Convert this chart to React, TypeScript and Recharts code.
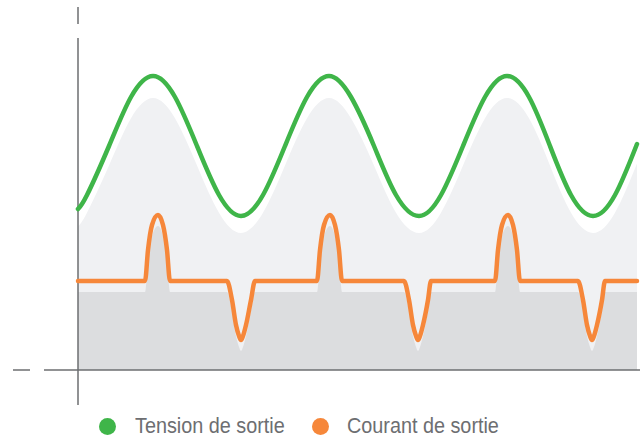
import React from 'react';
import { ComposedChart, Line, Area, XAxis, YAxis, ReferenceLine, Legend } from 'recharts';

// time (px from the vertical axis) and level (px above the horizontal axis)
const tensionT = [0, 9, 31, 53, 75, 97, 119, 141, 163, 185, 207, 229, 251, 273, 296, 318, 341, 363, 385, 407, 429, 451, 472, 493, 515, 537, 559];
const tensionV = [161, 175, 224, 273, 294, 273, 224, 175, 154, 175, 224, 273, 294, 273, 224, 175, 154, 175, 224, 273, 294, 273, 224, 175, 154, 175, 226];

const courantT = [
  0,
  67, 70, 74, 80, 85, 89, 92,
  149, 154, 158, 161, 163, 165, 168, 173, 177,
  239, 242, 246, 252, 257, 261, 264,
  326, 331, 335, 338, 340, 342, 345, 350, 353,
  417, 420, 424, 430, 435, 439, 442,
  500, 505, 509, 512, 514, 516, 519, 524, 527,
  559,
];
const courantI = [
  89,
  89, 120, 145, 155, 145, 120, 89,
  89, 70, 45, 34, 30, 34, 45, 70, 89,
  89, 120, 145, 155, 145, 120, 89,
  89, 70, 45, 34, 30, 34, 45, 70, 89,
  89, 120, 145, 155, 145, 120, 89,
  89, 70, 45, 34, 30, 34, 45, 70, 89,
  89,
];

const seriesNames = ['Tension de sortie', 'Courant de sortie'];

const tensionData = tensionT.map((t, i) => ({ t, v: tensionV[i] }));
const courantData = courantT.map((t, i) => ({ t, i: courantI[i] }));

const GREEN = '#3fb549';
const ORANGE = '#f6873a';
const AXIS = '#6d6e71';

// legend item slots: circle left edge, text left edge
const legendSlots = [
  { dot: 99, text: 135 },
  { dot: 312, text: 347 },
];

const renderLegend = (props: any) => {
  const items = (props.payload || [])
    .filter((e: any) => seriesNames.includes(e.value))
    .sort((a: any, b: any) => seriesNames.indexOf(a.value) - seriesNames.indexOf(b.value));
  return (
    <div style={{ position: 'relative', width: 640, height: 33 }}>
      {items.map((entry: any, idx: number) => (
        <React.Fragment key={entry.value}>
          <svg width={17} height={17} style={{ position: 'absolute', left: legendSlots[idx].dot, top: 8 }}>
            <circle cx={8.5} cy={8.5} r={8.5} fill={entry.color} />
          </svg>
          <span
            style={{
              position: 'absolute',
              left: legendSlots[idx].text,
              top: 3,
              whiteSpace: 'nowrap',
              color: AXIS,
              fontSize: 22,
              lineHeight: '25px',
              fontFamily: '"Liberation Sans", Arial, sans-serif',
              transform: 'scaleX(0.9)',
              transformOrigin: 'left center',
            }}
          >
            {entry.value}
          </span>
        </React.Fragment>
      ))}
    </div>
  );
};

export default function App() {
  return (
    <div style={{ position: 'absolute', left: 0, top: 0, width: 640, height: 437, background: '#fff' }}>
      <ComposedChart width={640} height={437} margin={{ top: 0, right: 2, bottom: 34, left: 78 }}>
        <XAxis type="number" dataKey="t" domain={[0, 560]} hide />
        <YAxis yAxisId="main" type="number" domain={[0, 370]} hide />
        {/* shifted scales for the two soft shadows */}
        <YAxis yAxisId="vShadow" type="number" domain={[11.8, 395.6]} hide />
        <YAxis yAxisId="iShadow" type="number" domain={[11, 381]} hide />

        <Area yAxisId="vShadow" data={tensionData} dataKey="v" type="natural" fill="#f0f1f3" fillOpacity={1} stroke="none" legendType="none" isAnimationActive={false} />
        <Area yAxisId="iShadow" data={courantData} dataKey="i" type="monotone" fill="#dcdddf" fillOpacity={1} stroke="none" legendType="none" isAnimationActive={false} />

        {/* broken axes */}
        <ReferenceLine yAxisId="main" ifOverflow="visible" stroke={AXIS} strokeWidth={1.5} segment={[{ x: 0, y: 363 }, { x: 0, y: 346 }]} />
        <ReferenceLine yAxisId="main" ifOverflow="visible" stroke={AXIS} strokeWidth={1.5} segment={[{ x: 0, y: 332 }, { x: 0, y: -35 }]} />
        <ReferenceLine yAxisId="main" ifOverflow="visible" stroke={AXIS} strokeWidth={1.5} segment={[{ x: -65, y: 0 }, { x: -48, y: 0 }]} />
        <ReferenceLine yAxisId="main" ifOverflow="visible" stroke={AXIS} strokeWidth={1.5} segment={[{ x: -34, y: 0 }, { x: 562, y: 0 }]} />

        <Line yAxisId="main" data={tensionData} dataKey="v" name={seriesNames[0]} type="natural" stroke={GREEN} strokeWidth={4.5} strokeLinecap="round" dot={false} activeDot={false} isAnimationActive={false} />
        <Line yAxisId="main" data={courantData} dataKey="i" name={seriesNames[1]} type="monotone" stroke={ORANGE} strokeWidth={4.5} strokeLinecap="round" strokeLinejoin="round" dot={false} activeDot={false} isAnimationActive={false} />

        <Legend
          verticalAlign="bottom"
          height={33}
          content={renderLegend}
          wrapperStyle={{ left: 0, top: 410, bottom: 'auto', width: 640, height: 33 }}
        />
      </ComposedChart>
    </div>
  );
}
